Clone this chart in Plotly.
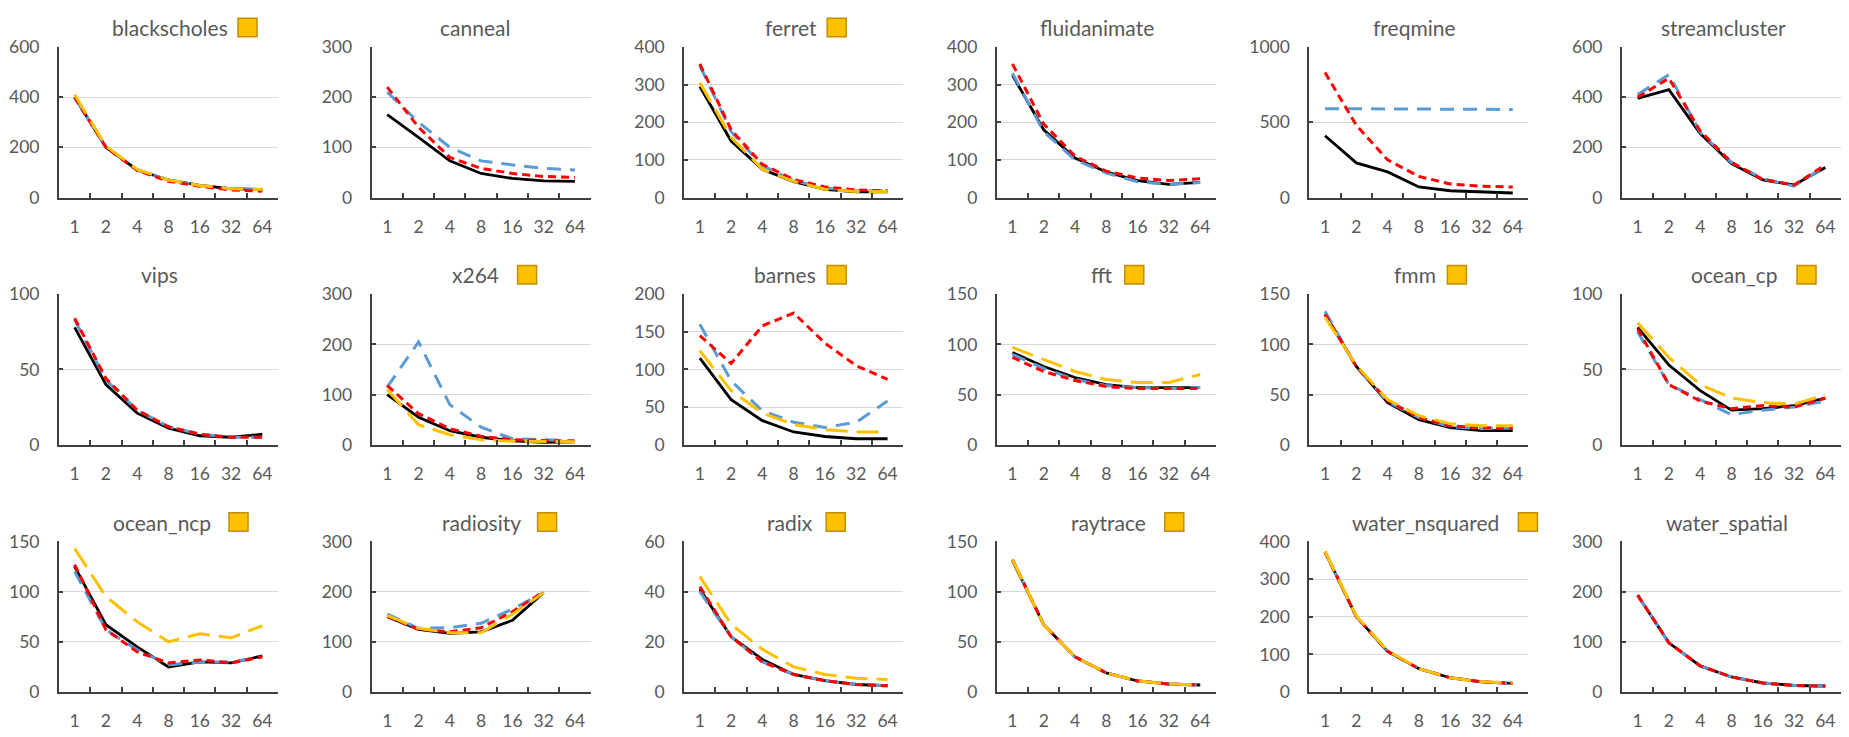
import plotly.graph_objects as go

W, H = 1849, 737

threads = ["1", "2", "4", "8", "16", "32", "64"]

benchmarks = ["blackscholes", "canneal", "ferret", "fluidanimate", "freqmine", "streamcluster",
              "vips", "x264", "barnes", "fft", "fmm", "ocean_cp",
              "ocean_ncp", "radiosity", "radix", "raytrace", "water_nsquared", "water_spatial"]

y_max = [600, 300, 400, 400, 1000, 600,
         100, 300, 200, 150, 150, 100,
         150, 300, 60, 150, 400, 300]
y_step = [200, 100, 100, 100, 500, 200,
          50, 100, 50, 50, 50, 50,
          50, 100, 20, 50, 100, 100]

# solid black series
black = {
    "blackscholes": [400, 200, 110, 70, 48, 35, 32],
    "canneal": [165, 120, 73, 48, 38, 33, 32],
    "ferret": [295, 150, 75, 42, 22, 15, 15],
    "fluidanimate": [325, 180, 105, 68, 45, 35, 40],
    "freqmine": [410, 230, 170, 70, 45, 35, 30],
    "streamcluster": [395, 430, 255, 135, 70, 50, 120],
    "vips": [78, 40, 21, 11, 6, 5, 7],
    "x264": [100, 55, 28, 15, 8, 5, 6],
    "barnes": [115, 60, 32, 17, 11, 8, 8],
    "fft": [92, 78, 67, 60, 57, 57, 57],
    "fmm": [130, 78, 42, 25, 17, 14, 14],
    "ocean_cp": [78, 53, 36, 23, 24, 26, 31],
    "ocean_ncp": [125, 67, 45, 25, 30, 29, 36],
    "radiosity": [150, 125, 117, 120, 143, 198, None],
    "radix": [41, 22, 13, 7, 4.5, 3, 2.5],
    "raytrace": [131, 67, 35, 19, 11, 8, 7],
    "water_nsquared": [372, 200, 108, 62, 38, 27, 23],
    "water_spatial": [193, 98, 52, 30, 18, 13, 12],
}

# blue dashed series
blue = {
    "blackscholes": [400, 200, 110, 70, 48, 35, 32],
    "canneal": [210, 150, 100, 73, 65, 58, 55],
    "ferret": [350, 175, 85, 45, 25, 18, 18],
    "fluidanimate": [330, 175, 100, 65, 42, 35, 40],
    "freqmine": [590, 590, 590, 590, 590, 588, 585],
    "streamcluster": [410, 490, 260, 140, 75, 45, 125],
    "vips": [83, 43, 23, 12, 7, 5, 5],
    "x264": [115, 205, 80, 35, 12, 10, 8],
    "barnes": [160, 85, 45, 30, 23, 30, 58],
    "fft": [90, 76, 65, 59, 57, 56, 57],
    "fmm": [133, 78, 43, 27, 18, 16, 17],
    "ocean_cp": [75, 40, 30, 20, 23, 25, 29],
    "ocean_ncp": [120, 62, 42, 27, 30, 30, 35],
    "radiosity": [155, 127, 128, 137, 165, 198, None],
    "radix": [40, 22, 12, 7, 4.5, 3, 2.5],
    "raytrace": [132, 67, 35, 19, 11, 8, 7],
    "water_nsquared": [372, 200, 108, 62, 38, 27, 23],
    "water_spatial": [193, 98, 52, 30, 18, 13, 12],
}

# red short-dashed series
red = {
    "blackscholes": [400, 200, 108, 65, 45, 30, 25],
    "canneal": [220, 140, 80, 58, 48, 42, 40],
    "ferret": [355, 180, 88, 48, 28, 20, 18],
    "fluidanimate": [355, 195, 110, 70, 52, 45, 50],
    "freqmine": [830, 480, 250, 140, 90, 75, 70],
    "streamcluster": [400, 475, 265, 140, 72, 50, 130],
    "vips": [84, 44, 23, 12, 7, 5, 5],
    "x264": [118, 62, 32, 17, 10, 8, 7],
    "barnes": [145, 108, 158, 175, 135, 105, 87],
    "fft": [87, 73, 64, 58, 56, 56, 56],
    "fmm": [130, 78, 44, 27, 19, 17, 17],
    "ocean_cp": [77, 40, 29, 24, 26, 25, 31],
    "ocean_ncp": [127, 62, 40, 29, 32, 29, 35],
    "radiosity": [150, 125, 120, 128, 160, 200, None],
    "radix": [42, 22, 12, 7, 4.5, 3, 2.5],
    "raytrace": [132, 67, 35, 19, 11, 8, 7],
    "water_nsquared": [372, 200, 108, 62, 38, 27, 23],
    "water_spatial": [193, 98, 52, 30, 18, 13, 12],
}

# orange long-dashed series (only in some benchmarks)
orange = {
    "blackscholes": [410, 205, 112, 70, 48, 35, 32],
    "ferret": [305, 160, 75, 43, 22, 16, 16],
    "x264": [110, 40, 20, 10, 7, 6, 6],
    "barnes": [125, 72, 42, 27, 20, 17, 17],
    "fft": [97, 85, 73, 65, 62, 62, 70],
    "fmm": [127, 79, 45, 29, 21, 19, 19],
    "ocean_cp": [81, 58, 40, 31, 28, 27, 33],
    "ocean_ncp": [143, 95, 70, 50, 58, 54, 66],
    "radiosity": [152, 127, 118, 118, 155, 198, None],
    "radix": [46, 27, 17, 10, 7, 5.5, 5],
    "raytrace": [132, 67, 35, 19, 11, 8, 7],
    "water_nsquared": [374, 202, 110, 62, 38, 27, 24],
}

# ---- layout (pixels) ----
col_left = [59 + 312.6 * c for c in range(6)]
row_top = [37, 291.5, 546]
plot_w, plot_h = 219, 155
title_dx = [1.5, -6, -2.5, -9, -4, -8,
            -9, -6, -8.5, -5, -4, 2,
            -7, 0, -3.5, 2, 7, -5]
square_dx = {"blackscholes": 179, "ferret": 143, "x264": 146, "barnes": 143, "fft": 128,
             "fmm": 138, "ocean_cp": 175, "ocean_ncp": 170, "radiosity": 166, "radix": 142,
             "raytrace": 168, "water_nsquared": 209}

FONT = "Lato, Carlito, 'Open Sans', sans-serif"
TXT = "#595959"
AX = "#404040"

styles = [
    ("black", black, dict(color="#000000", width=2.8)),
    ("blue", blue, dict(color="#5B9BD5", width=3, dash="14px,9px")),
    ("red", red, dict(color="#FF0000", width=3, dash="8px,5px")),
    ("orange", orange, dict(color="#FFC000", width=3, dash="22px,9px")),
]

fig = go.Figure()
shapes = []
annotations = []

for i, name in enumerate(benchmarks):
    r, c = divmod(i, 6)
    k = i + 1
    xa = "x" if k == 1 else f"x{k}"
    ya = "y" if k == 1 else f"y{k}"
    x0 = col_left[c]
    y0 = row_top[r]
    dom_x = [x0 / W, (x0 + plot_w) / W]
    dom_y = [1 - (y0 + plot_h) / H, 1 - y0 / H]

    for sname, data, line in styles:
        if name in data:
            fig.add_trace(go.Scatter(x=threads, y=data[name], mode="lines", line=line,
                                     name=sname, showlegend=False, connectgaps=False,
                                     xaxis=xa, yaxis=ya, hoverinfo="x+y"))

    fig.layout[f"xaxis{'' if k == 1 else k}"] = dict(
        domain=dom_x, anchor=ya, type="category", categoryorder="array",
        categoryarray=threads, range=[-0.5, 6.5], showgrid=False,
        showline=True, linecolor=AX, linewidth=2,
        ticks="inside", tickson="boundaries", ticklen=5, tickcolor=AX, tickwidth=1.5,
        tickfont=dict(family=FONT, size=17.5, color=TXT), ticklabelstandoff=12,
        fixedrange=True)
    fig.layout[f"yaxis{'' if k == 1 else k}"] = dict(
        domain=dom_y, anchor=xa, range=[0, y_max[i]], dtick=y_step[i], tick0=0,
        showgrid=True, gridcolor="#D9D9D9", gridwidth=1, zeroline=False,
        showline=True, linecolor=AX, linewidth=2,
        ticks="inside", ticklen=4, tickcolor=AX, tickwidth=1.5,
        tickfont=dict(family=FONT, size=17.5, color=TXT), ticklabelstandoff=14,
        fixedrange=True)

    cx = x0 + plot_w / 2 + title_dx[i]
    ty = y0 - 20
    annotations.append(dict(text=name, x=cx / W, y=1 - ty / H, xref="paper", yref="paper",
                            xanchor="center", yanchor="middle", showarrow=False,
                            font=dict(family=FONT, size=21, color=TXT)))
    if name in square_dx:
        sx = x0 + square_dx[name]
        shapes.append(dict(type="rect", xref="paper", yref="paper",
                           x0=sx / W, x1=(sx + 19) / W,
                           y0=1 - (ty + 9.5) / H, y1=1 - (ty - 9.5) / H,
                           fillcolor="#FFC000", line=dict(color="#BF9000", width=1.5)))

fig.update_layout(width=W, height=H, margin=dict(l=0, r=0, t=0, b=0),
                  paper_bgcolor="white", plot_bgcolor="white",
                  shapes=shapes, annotations=annotations, showlegend=False)

fig.write_html("out.html", config={"displayModeBar": False},
               post_script="document.body.style.margin='0';document.body.style.overflow='hidden';")
